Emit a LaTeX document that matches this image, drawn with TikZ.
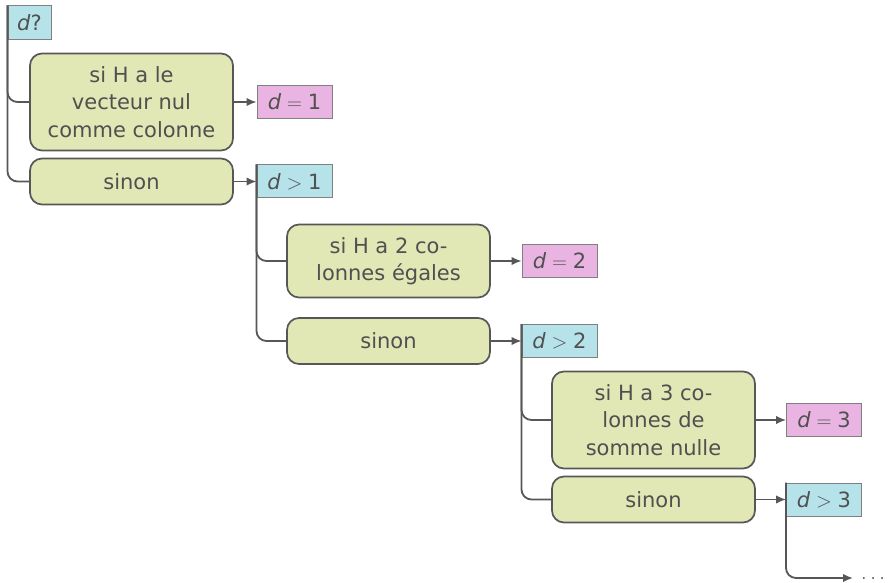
\documentclass[tikz,border=0pt]{standalone}
\usepackage{fontspec}
\setmainfont{DejaVu Sans}
\usetikzlibrary{arrows.meta}
\definecolor{txt}{HTML}{505050}
\definecolor{bordc}{HTML}{575757}
\definecolor{dbord}{HTML}{808080}
\definecolor{greenf}{HTML}{E1E8B5}
\definecolor{bluef}{HTML}{B6E2EA}
\definecolor{pinkf}{HTML}{E9B4E1}
\begin{document}
\begin{tikzpicture}[x=1pt,y=-1pt,
  font=\fontsize{21}{27.5}\selectfont, text=txt,
  cond/.style={draw=bordc, line width=1.7pt, fill=greenf, rounded corners=12pt,
    minimum width=203pt, inner sep=0pt, align=center},
  res/.style={draw=dbord, line width=1pt, minimum width=75pt, minimum height=33pt, inner sep=0pt},
  yes/.style={res, fill=pinkf},
  no/.style={res, fill=bluef},
  tip/.style={-{Latex[length=10pt,width=8.5pt]}},
  tree/.style={draw=bordc, line width=1.8pt, rounded corners=10pt},
  arr/.style={draw=bordc, line width=1.6pt, tip}
]
\useasboundingbox (0,0) rectangle (892,583);

% question
\node[no, minimum width=43pt, minimum height=34pt] (dq) at (29.5,23) {\textit{d}?};

% level 1
\node[cond, minimum height=97pt] (b1) at (131.5,102) {si H a le\\vecteur nul\\comme colonne};
\node[cond, minimum height=46pt] (b2) at (131.5,181.5) {sinon};
\node[yes] (d1) at (294.5,102) {\textit{d}${}={}$1};
\node[no] (g1) at (294.5,181.5) {\textit{d}${}>{}$1};

% level 2
\node[cond, minimum height=73pt] (b3) at (388.5,261) {si H a 2 co-\\lonnes égales};
\node[cond, minimum height=46pt] (b4) at (388.5,341) {sinon};
\node[yes] (d2) at (559.5,261) {\textit{d}${}={}$2};
\node[no] (g2) at (559.5,341) {\textit{d}${}>{}$2};

% level 3
\node[cond, minimum height=97pt] (b5) at (653.5,420) {si H a 3 co-\\lonnes de\\somme nulle};
\node[cond, minimum height=46pt] (b6) at (653.5,499.5) {sinon};
\node[yes] (d3) at (824,420) {\textit{d}${}={}$3};
\node[no] (g3) at (824,499.5) {\textit{d}${}>{}$3};

% continuation
\node[anchor=west, inner xsep=8pt, inner ysep=1pt] (dots) at (853,578) {$\ldots$};

% tree lines
\draw[tree] (dq.north west) |- (b1.west);
\draw[tree] (dq.north west) |- (b2.west);
\draw[tree] (g1.north west) |- (b3.west);
\draw[tree] (g1.north west) |- (b4.west);
\draw[tree] (g2.north west) |- (b5.west);
\draw[tree] (g2.north west) |- (b6.west);
\draw[tree, tip] (g3.north west) |- (dots.west);

% arrows
\draw[arr] (b1.east) -- (d1.west);
\draw[arr] (b2.east) -- (g1.west);
\draw[arr] (b3.east) -- (d2.west);
\draw[arr] (b4.east) -- (g2.west);
\draw[arr] (b5.east) -- (d3.west);
\draw[arr] (b6.east) -- (g3.west);
\end{tikzpicture}
\end{document}
